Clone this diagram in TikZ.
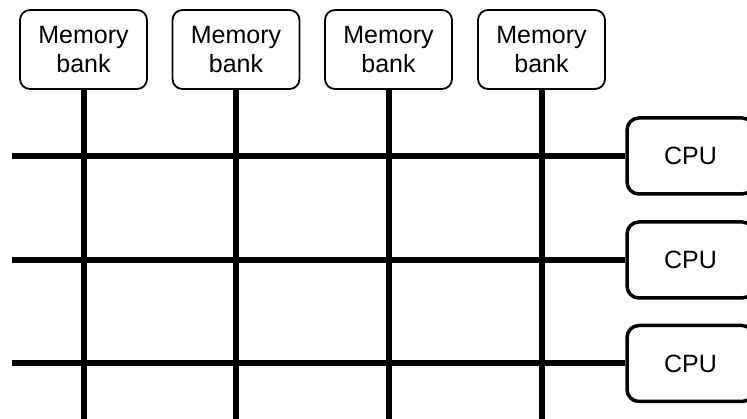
\documentclass[tikz,border=0pt]{standalone}
\usepackage{fontspec}
\setmainfont{Liberation Sans}
\begin{document}
\begin{tikzpicture}[x=1pt,y=-1pt,
  membox/.style={draw, line width=1.8pt, rounded corners=10pt, minimum width=127pt, minimum height=79pt, align=center, inner sep=0pt, font=\fontsize{25}{29}\selectfont},
  cpubox/.style={draw, line width=3.5pt, rounded corners=12pt, minimum width=127pt, minimum height=76pt, inner sep=0pt, font=\fontsize{25}{29}\selectfont},
  bus/.style={line width=6pt}]
\clip (0,0) rectangle (747,419);
\node[membox] (m1) at (83.5,49.5) {Memory\\bank};
\node[membox] (m2) at (236,49.5) {Memory\\bank};
\node[membox] (m3) at (388.5,49.5) {Memory\\bank};
\node[membox] (m4) at (541.5,49.5) {Memory\\bank};
\node[cpubox] (c1) at (690.5,156) {CPU};
\node[cpubox] (c2) at (690.5,260) {CPU};
\node[cpubox] (c3) at (690.5,363.5) {CPU};
\coordinate (bot) at (0,430);
\coordinate (l1) at (12,156);
\coordinate (l2) at (12,260);
\coordinate (l3) at (12,363.5);
\foreach \m in {m1,m2,m3,m4} \draw[bus] (\m.south) -- (\m.south |- bot);
\draw[bus] (l1) -- (c1.west);
\draw[bus] (l2) -- (c2.west);
\draw[bus] (l3) -- (c3.west);
\end{tikzpicture}
\end{document}
